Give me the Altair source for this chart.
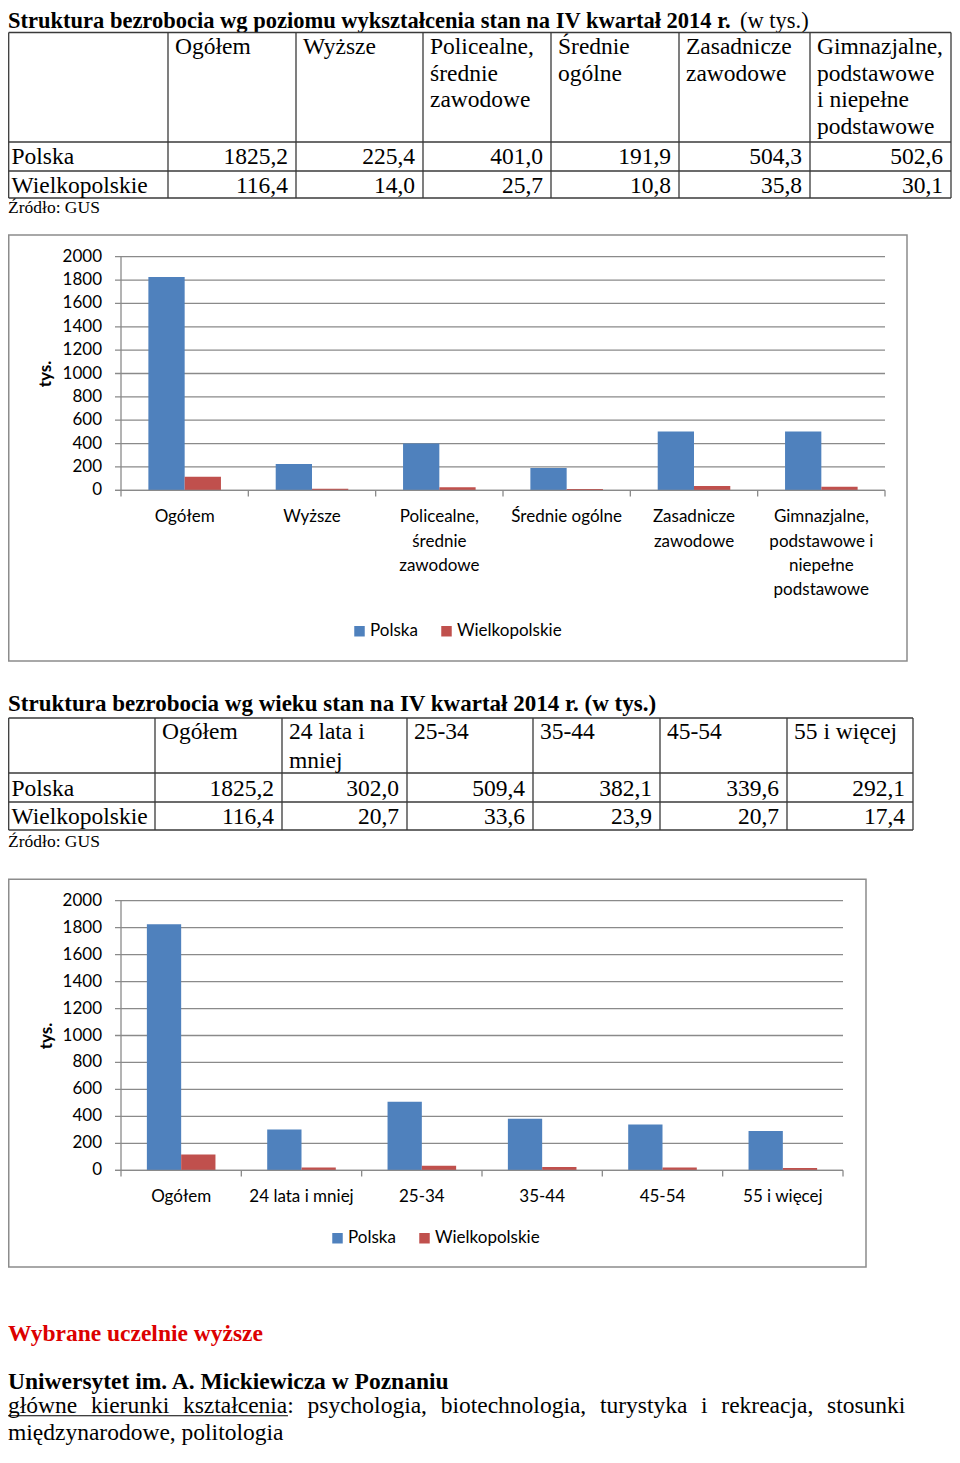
import altair as alt
import pandas as pd

# ---------------- data ----------------
series = ["Polska", "Wielkopolskie"]

edu_categories = ["Ogółem", "Wyższe", "Policealne, średnie zawodowe", "Średnie ogólne",
                  "Zasadnicze zawodowe", "Gimnazjalne, podstawowe i niepełne podstawowe"]
edu_table_headers = ["Ogółem", "Wyższe", "Policealne,\nśrednie\nzawodowe", "Średnie\nogólne",
                     "Zasadnicze\nzawodowe", "Gimnazjalne,\npodstawowe\ni niepełne\npodstawowe"]
edu_axis_labels = ["Ogółem", "Wyższe", "Policealne,\nśrednie\nzawodowe", "Średnie ogólne",
                   "Zasadnicze\nzawodowe", "Gimnazjalne,\npodstawowe i\nniepełne\npodstawowe"]
edu_polska = [1825.2, 225.4, 401.0, 191.9, 504.3, 502.6]
edu_wielkopolskie = [116.4, 14.0, 25.7, 10.8, 35.8, 30.1]

age_categories = ["Ogółem", "24 lata i mniej", "25-34", "35-44", "45-54", "55 i więcej"]
age_table_headers = ["Ogółem", "24 lata i\nmniej", "25-34", "35-44", "45-54", "55 i więcej"]
age_axis_labels = ["Ogółem", "24 lata i mniej", "25-34", "35-44", "45-54", "55 i więcej"]
age_polska = [1825.2, 302.0, 509.4, 382.1, 339.6, 292.1]
age_wielkopolskie = [116.4, 20.7, 33.6, 23.9, 20.7, 17.4]

y_ticks = [0, 200, 400, 600, 800, 1000, 1200, 1400, 1600, 1800, 2000]

title_edu = "Struktura bezrobocia wg poziomu wykształcenia stan na IV kwartał 2014 r."
title_edu_unit = "(w tys.)"
title_age = "Struktura bezrobocia wg wieku stan na IV kwartał 2014 r. (w tys.)"
source_note = "Źródło: GUS"
y_title = "tys."
section_title = "Wybrane uczelnie wyższe"
uni_name = "Uniwersytet im. A. Mickiewicza w Poznaniu"
uni_line1 = "główne kierunki kształcenia: psychologia, biotechnologia, turystyka i rekreacja, stosunki"
uni_line2 = "międzynarodowe, politologia"

# ---------------- style / layout ----------------
W, H = 944, 1438
OFF = 8
SERIF = "Liberation Serif"
SANS = "Lato"
INK = "#000000"
GRID = "#8a8a8a"
FRAME = "#8c8c8c"
TABLE_LINE = "#3a3a3a"
RED_TXT = "#dc0000"
COLORS = ["#4F81BD", "#C0504D"]
T_SIZE = 23.5


def px(v):
    return v - OFF


ONE = pd.DataFrame({"k": [0]})


def label(text, x, y, size, weight="normal", color=INK, font=SERIF,
          align="left", baseline="alphabetic", angle=0):
    mk = dict(text=text, font=font, fontSize=size, fontWeight=weight, color=color,
              align=align, baseline=baseline)
    if angle:
        mk["angle"] = angle
    return alt.Chart(ONE).mark_text(**mk).encode(x=alt.value(px(x)), y=alt.value(px(y)))


def segment_layer(segs, color, width):
    df = pd.DataFrame([(px(a), px(b), px(c), px(d)) for a, b, c, d in segs],
                      columns=["x", "y", "x2", "y2"])
    return alt.Chart(df).mark_rule(color=color, strokeWidth=width).encode(
        x=alt.X("x:Q", scale=None, axis=None), y=alt.Y("y:Q", scale=None, axis=None),
        x2="x2:Q", y2="y2:Q")


def table_layers(headers, polska, wlkp, cols, rows, head_base, head_lh, row_bases):
    n = len(headers)
    idx = list(range(n))
    head_df = pd.DataFrame({"i": idx, "header": headers})
    val_df = pd.DataFrame({"i": idx + idx,
                           "series": [series[0]] * n + [series[1]] * n,
                           "value": list(polska) + list(wlkp)})
    row_df = pd.DataFrame({"series": series})
    head_scale = alt.Scale(domain=idx, range=[px(c + 7) for c in cols[1:-1]], nice=False, zero=False)
    val_scale = alt.Scale(domain=idx, range=[px(c - 8) for c in cols[2:]], nice=False, zero=False)
    row_scale = alt.Scale(type="point", domain=series, range=[px(b) for b in row_bases], padding=0)
    head = alt.Chart(head_df).mark_text(
        align="left", baseline="alphabetic", font=SERIF, fontSize=T_SIZE,
        lineBreak="\n", lineHeight=head_lh, color=INK).encode(
        x=alt.X("i:Q", scale=head_scale, axis=None), y=alt.value(px(head_base)), text="header:N")
    vals = alt.Chart(val_df).transform_calculate(
        txt="replace(format(datum.value, '.1f'), '.', ',')").mark_text(
        align="right", baseline="alphabetic", font=SERIF, fontSize=T_SIZE, color=INK).encode(
        x=alt.X("i:Q", scale=val_scale, axis=None),
        y=alt.Y("series:N", scale=row_scale, axis=None), text="txt:N")
    rowlab = alt.Chart(row_df).mark_text(
        align="left", baseline="alphabetic", font=SERIF, fontSize=T_SIZE, color=INK).encode(
        x=alt.value(px(11.5)), y=alt.Y("series:N", scale=row_scale, axis=None), text="series:N")
    left = max(cols[0], OFF + 0.7)
    segs = [(c, rows[0], c, rows[-1]) for c in [left] + cols[1:]]
    segs += [(left, r, cols[-1], r) for r in rows]
    grid = segment_layer(segs, TABLE_LINE, 1.3)
    return [grid, head, vals, rowlab]


def bar_layers(categories, axis_labels, polska, wlkp, x0, x1, y0, y1, label_base, label_lh,
               legend_x, legend_y, frame, tys_xy, grid_x0=115):
    n = len(categories)
    bar_df = pd.DataFrame({"category": categories * 2,
                           "series": [series[0]] * n + [series[1]] * n,
                           "value": list(polska) + list(wlkp)})
    lab_df = pd.DataFrame({"category": categories, "label": axis_labels})
    tick_df = pd.DataFrame({"tick": y_ticks})
    xs = alt.Scale(domain=categories, range=[px(x0), px(x1)], paddingInner=0.43, paddingOuter=0.215)
    ys = alt.Scale(domain=[0, 2000], range=[px(y0), px(y1)], nice=False, zero=True)
    fx0, fy0, fx1, fy1 = frame
    frame_l = alt.Chart(ONE).mark_rect(fill="white", stroke=FRAME, strokeWidth=1.5).encode(
        x=alt.value(max(px(fx0), 0.75)), x2=alt.value(px(fx1)),
        y=alt.value(px(fy0)), y2=alt.value(px(fy1)))
    gridl = alt.Chart(tick_df).mark_rule(color=GRID, strokeWidth=1.3).encode(
        y=alt.Y("tick:Q", scale=ys, axis=None), x=alt.value(px(grid_x0)), x2=alt.value(px(x1)))
    ylab = alt.Chart(tick_df).mark_text(
        align="right", baseline="middle", font=SANS, fontSize=17, color=INK).encode(
        y=alt.Y("tick:Q", scale=ys, axis=None), x=alt.value(px(102)),
        text=alt.Text("tick:Q", format="d"))
    bars = alt.Chart(bar_df).mark_bar().encode(
        x=alt.X("category:N", scale=xs, axis=None),
        xOffset=alt.XOffset("series:N", scale=alt.Scale(domain=series, paddingInner=0, paddingOuter=0)),
        y=alt.Y("value:Q", scale=ys, axis=None),
        color=alt.Color("series:N", scale=alt.Scale(domain=series, range=COLORS),
                        legend=alt.Legend(orient="none", legendX=px(legend_x), legendY=px(legend_y),
                                          direction="horizontal", title=None, symbolType="square",
                                          symbolSize=110, symbolStrokeWidth=0, labelFont=SANS,
                                          labelFontSize=17, labelColor=INK, labelOffset=2,
                                          columnPadding=20, padding=0)))
    step = (x1 - x0) / n
    segs = [(x0, y1, x0, y0 + 6.3), (grid_x0, y0, x1, y0)]
    segs += [(x0 + i * step, y0, x0 + i * step, y0 + 6.3) for i in range(1, n + 1)]
    axes = segment_layer(segs, GRID, 1.3)
    xlab = alt.Chart(lab_df).mark_text(
        align="center", baseline="alphabetic", font=SANS, fontSize=17, lineBreak="\n",
        lineHeight=label_lh, color=INK).encode(
        x=alt.X("category:N", scale=xs, axis=None), y=alt.value(px(label_base)), text="label:N")
    tys = label(y_title, tys_xy[0], tys_xy[1], 17, "bold", font=SANS, align="center",
                baseline="middle", angle=270)
    return [frame_l, gridl, bars, axes, ylab, xlab, tys]


layers = []
# ---- section 1: education ----
layers.append(label(title_edu, 8, 28, 22.5, "bold"))
layers.append(label(title_edu_unit, 740, 28, 22.5))
layers += table_layers(edu_table_headers, edu_polska, edu_wielkopolskie,
                       cols=[3, 168, 296, 423, 551, 679, 810, 951], rows=[32.5, 142, 171, 198],
                       head_base=54, head_lh=26.7, row_bases=[164.3, 192.7])
layers.append(label(source_note, 8, 212.5, 17.5))
layers += bar_layers(edu_categories, edu_axis_labels, edu_polska, edu_wielkopolskie,
                     x0=121, x1=885, y0=490.3, y1=256.7, label_base=522.3, label_lh=24.3,
                     legend_x=351, legend_y=622.5, frame=(7, 235, 907, 661), tys_xy=(46, 374))

# ---- section 2: age ----
layers.append(label(title_age, 8, 710.7, 23, "bold"))
layers += table_layers(age_table_headers, age_polska, age_wielkopolskie,
                       cols=[3, 155, 282, 407, 533, 660, 787, 913], rows=[718, 773, 802, 830],
                       head_base=739, head_lh=28.5, row_bases=[796, 824])
layers.append(label(source_note, 8, 846.7, 17.5))
layers += bar_layers(age_categories, age_axis_labels, age_polska, age_wielkopolskie,
                     x0=121, x1=843, y0=1170.3, y1=900.7, label_base=1202, label_lh=24.3,
                     legend_x=329, legend_y=1229.5, frame=(7, 879.3, 866, 1267), tys_xy=(46.5, 1036))

# ---- footer ----
layers.append(label(section_title, 8, 1341, 23.5, "bold", color=RED_TXT))
layers.append(label(uni_name, 8, 1389, 23.5, "bold"))
layers.append(label(uni_line1.replace(" ", "\u00a0\u200a "), 8, 1413, 23.5))
layers.append(segment_layer([(8, 1415.8, 288, 1415.8)], INK, 1.1))
layers.append(label(uni_line2, 8, 1440, 23.5))

chart = alt.layer(*layers).resolve_scale(
    x="independent", y="independent", color="independent", xOffset="independent"
).properties(
    width=W, height=H, padding=0, autosize=alt.AutoSizeParams(type="none")
).configure_view(stroke="transparent")

chart.save("out.html", embed_options={"renderer": "svg", "actions": False})
